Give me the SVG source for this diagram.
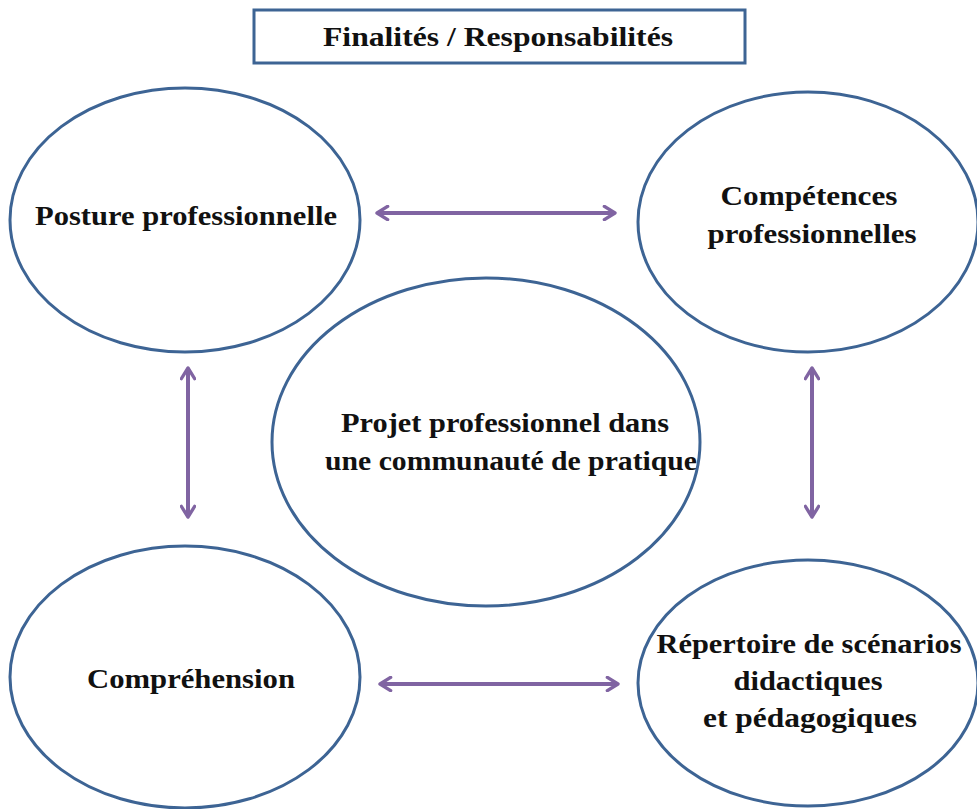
<svg xmlns="http://www.w3.org/2000/svg" width="977" height="809" viewBox="0 0 977 809">
<style>
.node{fill:#fff;stroke:#3d6494;stroke-width:3}
.lbl{font-family:"Liberation Serif","Times New Roman",serif;font-weight:bold;font-size:27px;fill:#111;text-anchor:middle}
.conn{stroke:#8064a2;stroke-width:4;fill:none;marker-start:url(#ah);marker-end:url(#ah)}
</style>
<defs>
<marker id="ah" viewBox="0 0 12 12" refX="10" refY="6" markerWidth="4" markerHeight="4" orient="auto-start-reverse" markerUnits="strokeWidth">
<path d="M2,1 L10,6 L2,11" fill="none" stroke="#8064a2" stroke-width="2.5" stroke-linecap="round" stroke-linejoin="round"/>
</marker>
</defs>
<rect width="977" height="809" fill="#fff"/>
<g id="title">
<rect x="254" y="10" width="491" height="53" class="node"/>
<text x="498" y="46" class="lbl" textLength="350" lengthAdjust="spacingAndGlyphs">Finalités / Responsabilités</text>
</g>
<g id="connectors">
<line x1="377" y1="213" x2="615" y2="213" class="conn"/>
<line x1="188" y1="368" x2="188" y2="517" class="conn"/>
<line x1="812" y1="368" x2="812" y2="517" class="conn"/>
<line x1="380" y1="684" x2="618" y2="684" class="conn"/>
</g>
<g id="posture">
<ellipse cx="185" cy="220" rx="175" ry="132" class="node"/>
<text x="186" y="225" class="lbl" textLength="302" lengthAdjust="spacingAndGlyphs">Posture professionnelle</text>
</g>
<g id="competences">
<ellipse cx="808" cy="222" rx="170" ry="130" class="node"/>
<text x="809" y="205" class="lbl" textLength="177" lengthAdjust="spacingAndGlyphs">Compétences</text>
<text x="812" y="243" class="lbl" textLength="209" lengthAdjust="spacingAndGlyphs">professionnelles</text>
</g>
<g id="projet">
<ellipse cx="486" cy="442" rx="214" ry="164" class="node"/>
<text x="505" y="432" class="lbl" textLength="328" lengthAdjust="spacingAndGlyphs">Projet professionnel dans</text>
<text x="511" y="470" class="lbl" textLength="372" lengthAdjust="spacingAndGlyphs">une communauté de pratique</text>
</g>
<g id="comprehension">
<ellipse cx="185" cy="677" rx="175" ry="131" class="node"/>
<text x="191" y="688" class="lbl" textLength="208" lengthAdjust="spacingAndGlyphs">Compréhension</text>
</g>
<g id="repertoire">
<ellipse cx="808" cy="683" rx="170" ry="123" class="node"/>
<text x="809" y="653" class="lbl" textLength="305" lengthAdjust="spacingAndGlyphs">Répertoire de scénarios</text>
<text x="808" y="690" class="lbl" textLength="149" lengthAdjust="spacingAndGlyphs">didactiques</text>
<text x="810" y="727" class="lbl" textLength="214" lengthAdjust="spacingAndGlyphs">et pédagogiques</text>
</g>
</svg>
